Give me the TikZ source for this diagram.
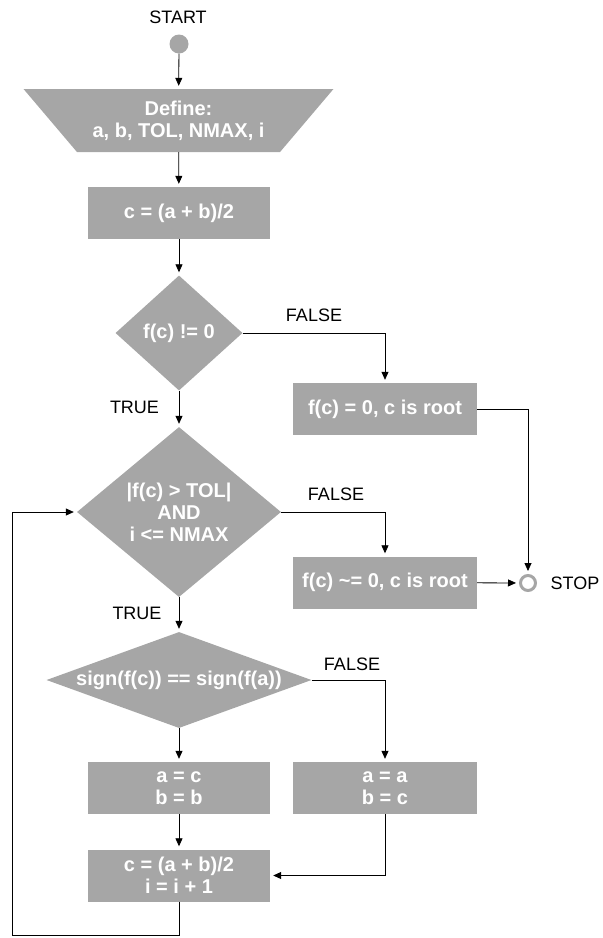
\documentclass[tikz,border=0pt]{standalone}
\usepackage{fontspec}
\setmainfont{Liberation Sans}
\usetikzlibrary{shapes.geometric,arrows.meta}
\definecolor{boxgray}{RGB}{166,166,166}
\begin{document}
\begin{tikzpicture}[x=1pt,y=-1pt,
  boxtext/.style={fill=boxgray,text=white,font=\fontsize{20}{22}\selectfont\bfseries,align=center,inner sep=0pt},
  procbox/.style={boxtext,minimum width=182pt,minimum height=52pt},
  decision/.style={boxtext,diamond},
  lbl/.style={font=\fontsize{18}{20}\selectfont},
  flow/.style={-{Triangle[length=8pt,width=7pt]},line width=0.8pt,shorten >=3pt}]
\useasboundingbox (0,0) rectangle (603,938);
\node[lbl] (starttxt) at (178,17) {START};
\node[circle,fill=boxgray,minimum size=19pt,inner sep=0pt] (start) at (179,44) {};
\node[boxtext,trapezium,trapezium angle=41.2,trapezium stretches=true,shape border rotate=180,minimum width=311pt,minimum height=63pt] (define) at (178.5,120.5) {Define:\\a, b, TOL, NMAX, i};
\node[procbox] (calc1) at (179,213) {c = (a + b)/2};
\node[decision,minimum width=127pt,minimum height=115pt] (zerotest) at (179,333) {f(c) != 0};
\node[procbox,minimum width=184pt] (exact) at (385,409) {f(c) = 0, c is root};
\node[decision,minimum width=204pt,minimum height=170pt] (loop) at (179,512) {|f(c) > TOL|\\AND\\i <= NMAX};
\node[procbox,minimum width=184pt] (approx) at (385,582.5) {f(c) \textasciitilde= 0, c is root};
\node[circle,draw=boxgray,line width=3pt,fill=white,minimum size=15pt,inner sep=0pt] (stop) at (528,583) {};
\node[lbl,inner sep=0pt] (stoptxt) at (575,583) {STOP};
\node[decision,aspect=2.76,minimum width=265pt,minimum height=96pt] (signtest) at (179,680) {sign(f(c)) == sign(f(a))};
\node[procbox] (left) at (179,788) {a = c\\b = b};
\node[procbox,minimum width=184pt] (right) at (385,788) {a = a\\b = c};
\node[procbox] (calc2) at (179,875.5) {c = (a + b)/2\\i = i + 1};
\coordinate (corner) at (12,935);
\node[lbl] (false1) at (314,315) {FALSE};
\node[lbl] (true1) at (134.5,407) {TRUE};
\node[lbl] (false2) at (336,494) {FALSE};
\node[lbl] (true2) at (137,613) {TRUE};
\node[lbl] (false3) at (352,664) {FALSE};
\draw[flow] (start) -- (define);
\draw[flow] (define) -- (calc1);
\draw[flow] (calc1) -- (zerotest);
\draw[flow] (zerotest) -- (loop);
\draw[flow] (zerotest.east) -| (exact.north);
\draw[flow] (exact.east) -| (stop.north);
\draw[flow] (loop.east) -| (approx.north);
\draw[flow] (approx) -- (stop);
\draw[flow] (loop) -- (signtest);
\draw[flow] (signtest) -- (left);
\draw[flow] (signtest.east) -| (right.north);
\draw[flow] (left) -- (calc2);
\draw[flow] (right.south) |- (calc2.east);
\draw[flow] (calc2.south) |- (corner) |- (loop.west);
\end{tikzpicture}
\end{document}
